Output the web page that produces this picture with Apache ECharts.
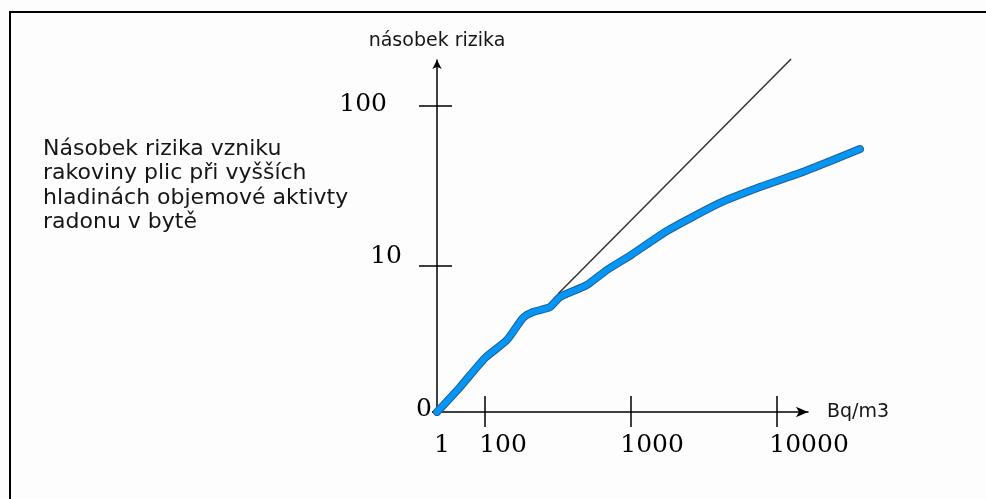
<!DOCTYPE html>
<html>
<head>
<meta charset="utf-8">
<script src="https://cdn.jsdelivr.net/npm/echarts@6/dist/echarts.min.js"></script>
<style>
  html, body { margin: 0; padding: 0; background: #fdfdfd; }
  .frame { position: absolute; left: 9px; top: 11px; right: 0; bottom: 0; border-top: 2px solid #000; border-left: 2px solid #000; }
  .chart { position: absolute; left: 0; top: 0; width: 986px; height: 499px; }
</style>
</head>
<body>
<div class="frame"></div>
<div class="chart" id="chart"></div>
<script>
// positions on the hand-drawn scale (one unit = one decade of the upper part)
const xTickPos = [0, 0.329, 1.329, 2.329]
const xTickLabels = ['1', '100', '1000', '10000']
const yTickPos = [0, 1.0, 2.096]
const yTickLabels = ['0', '10', '100']

// risk multiplier curve (blue) and linear extrapolation (thin line)
const riskCurve = [
  [0, 0], [0.158, 0.171], [0.329, 0.370], [0.479, 0.493], [0.589, 0.644],
  [0.658, 0.685], [0.774, 0.719], [0.842, 0.788], [1.027, 0.870], [1.164, 0.973],
  [1.329, 1.075], [1.575, 1.240], [1.938, 1.432], [2.212, 1.541], [2.486, 1.637],
  [2.712, 1.726], [2.897, 1.801]
]
const linearTrend = [[0.83, 0.81], [2.425, 2.418]]

// drawn axis extent, and the wider extent the curves may run into
const xMax = 2.541
const yMax = 2.411
const xMaxPlot = 2.95
const yMaxPlot = 2.5

const unit = 146 // px per unit, same in both grids
const originX = 437
const originY = 412

const serif = 'DejaVu Serif'
const sans = 'DejaVu Sans'

function idx(arr, v) {
  for (let i = 0; i < arr.length; i++) {
    if (Math.abs(arr[i] - v) < 1e-6) return i
  }
  return -1
}

const chart = echarts.init(document.getElementById('chart'))
const W = chart.getWidth()
const H = chart.getHeight()
const tickFont = { fontFamily: serif, fontSize: 25, color: '#000' }
const tickLine = { color: '#000', width: 1.5 }

function hiddenAxis(type, gridIndex, max) {
  return {
    type: type, gridIndex: gridIndex, min: 0, max: max,
    axisLine: { show: false }, axisTick: { show: false },
    axisLabel: { show: false }, splitLine: { show: false }
  }
}

const option = {
  animation: false,
  backgroundColor: 'transparent',
  title: {
    text: 'Násobek rizika vzniku\nrakoviny plic při vyšších\nhladinách objemové aktivty\nradonu v bytě',
    left: 43,
    top: 137,
    padding: 0,
    textStyle: { fontFamily: sans, fontSize: 22, fontWeight: 'normal', color: '#161616', lineHeight: 24.5 }
  },
  grid: [
    // axes
    { left: originX, right: W - (originX + xMax * unit), top: originY - yMax * unit, bottom: H - originY },
    // curves
    { left: originX, right: W - (originX + xMaxPlot * unit), top: originY - yMaxPlot * unit, bottom: H - originY }
  ],
  xAxis: [
    {
      type: 'value', gridIndex: 0, min: 0, max: xMax, position: 'bottom', offset: 0,
      name: 'Bq/m3', nameLocation: 'end', nameGap: 19,
      nameTextStyle: { fontFamily: sans, fontSize: 19, color: '#161616', verticalAlign: 'middle', padding: [4, 0, 0, 0] },
      axisLine: { show: true, symbol: ['none', 'arrow'], symbolSize: [8, 12], lineStyle: tickLine },
      axisTick: { show: true, customValues: xTickPos.slice(1), length: 15, inside: false, lineStyle: tickLine },
      axisLabel: {
        customValues: xTickPos,
        margin: 21,
        formatter: function (v) { const i = idx(xTickPos, v); return i < 0 ? '' : '{x' + i + '|' + xTickLabels[i] + '}' },
        rich: {
          x0: Object.assign({ padding: [0, 0, 0, 10] }, tickFont),
          x1: Object.assign({ padding: [0, 0, 0, 36] }, tickFont),
          x2: Object.assign({ padding: [0, 0, 0, 42] }, tickFont),
          x3: Object.assign({ padding: [0, 0, 0, 64] }, tickFont)
        }
      },
      splitLine: { show: false }
    },
    {
      type: 'value', gridIndex: 0, min: 0, max: xMax, position: 'bottom', offset: 0,
      axisLine: { show: false },
      axisTick: { show: true, customValues: xTickPos.slice(1), length: 16, inside: true, lineStyle: tickLine },
      axisLabel: { show: false },
      splitLine: { show: false }
    },
    hiddenAxis('value', 1, xMaxPlot)
  ],
  yAxis: [
    {
      type: 'value', gridIndex: 0, min: 0, max: yMax, position: 'left', offset: 0,
      name: 'násobek rizika', nameLocation: 'end', nameGap: 9,
      nameTextStyle: { fontFamily: sans, fontSize: 19, color: '#161616', align: 'center' },
      axisLine: { show: true, symbol: ['none', 'arrow'], symbolSize: [7, 9], lineStyle: tickLine },
      axisTick: { show: true, customValues: yTickPos.slice(1), length: 18, inside: false, lineStyle: tickLine },
      axisLabel: {
        customValues: yTickPos,
        margin: 5,
        formatter: function (v) { const i = idx(yTickPos, v); return i < 0 ? '' : '{y' + i + '|' + yTickLabels[i] + '}' },
        rich: {
          y0: Object.assign({ padding: [0, 0, 6, 0] }, tickFont),
          y1: Object.assign({ padding: [0, 30, 20, 0] }, tickFont),
          y2: Object.assign({ padding: [0, 45, 2, 0] }, tickFont)
        }
      },
      splitLine: { show: false }
    },
    {
      type: 'value', gridIndex: 0, min: 0, max: yMax, position: 'left', offset: 0,
      axisLine: { show: false },
      axisTick: { show: true, customValues: yTickPos.slice(1), length: 15, inside: true, lineStyle: tickLine },
      axisLabel: { show: false },
      splitLine: { show: false }
    },
    {
      type: 'value', gridIndex: 0, min: 0, max: yMax, position: 'left', offset: 0,
      axisLine: { show: false },
      axisTick: { show: true, customValues: [yTickPos[0]], length: 5, inside: false, lineStyle: tickLine },
      axisLabel: { show: false },
      splitLine: { show: false }
    },
    hiddenAxis('value', 1, yMaxPlot)
  ],
  series: [
    {
      name: 'trend', type: 'line', data: linearTrend, xAxisIndex: 2, yAxisIndex: 3,
      symbol: 'none', lineStyle: { color: '#333', width: 1.5 }
    },
    {
      name: 'outline', type: 'line', data: riskCurve, xAxisIndex: 2, yAxisIndex: 3,
      symbol: 'none', smooth: 0.2, lineStyle: { color: '#1f5f96', width: 8, cap: 'round', join: 'round' }
    },
    {
      name: 'riziko', type: 'line', data: riskCurve, xAxisIndex: 2, yAxisIndex: 3,
      symbol: 'none', smooth: 0.2, lineStyle: { color: '#0596f5', width: 6, cap: 'round', join: 'round' }
    }
  ]
}

chart.setOption(option)
</script>
</body>
</html>
